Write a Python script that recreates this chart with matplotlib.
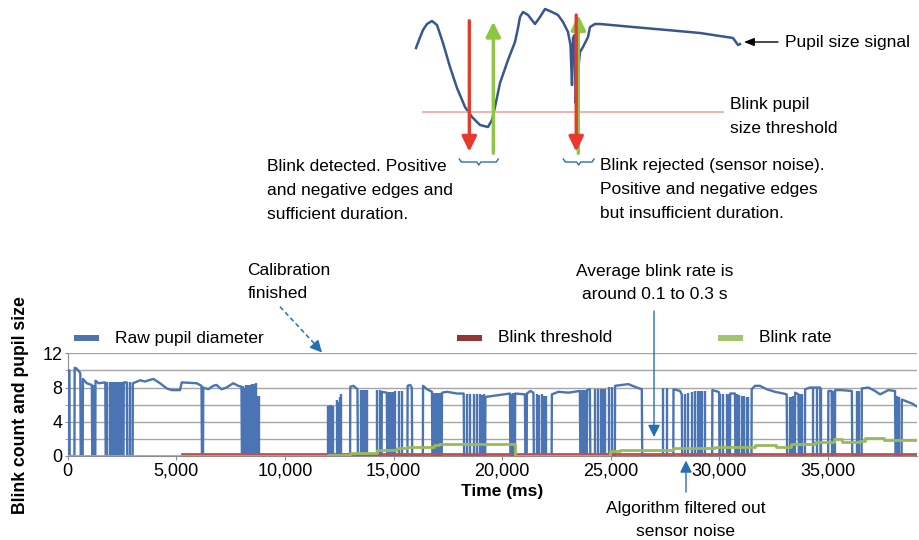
import matplotlib
matplotlib.use('Agg')
import matplotlib.pyplot as plt
from matplotlib.patches import Rectangle
from matplotlib.ticker import FuncFormatter, MultipleLocator

plt.rcParams['font.family'] = ['Liberation Sans', 'DejaVu Sans']
plt.rcParams['font.size'] = 12.5

# ---- raw pupil diameter: plateau pieces (zero between pieces) ----
raw_t = [0, 0, 80, 90, 310, 320, 360, 450, 580, 600, 690, 700, 880, 1110, 1130,
         1270, 1280, 1420, 1730, 1750,
         2570, 2580, 2720, 2740,
         2990, 3000, 3340, 3560, 3720, 3950, 4250, 4560, 4790, 5170, 5250, 5940, 6160, 6180,
         6230, 6240, 6470, 6700, 6850, 7080, 7310, 7620, 7850, 8000, 8020,
         13000, 13010, 13150, 13340, 13360,
         14450, 14460, 14690, 14710,
         15640, 15650, 15770, 15840, 15860,
         16350, 16360, 16540, 16770, 16790,
         17220, 17230, 17460, 17920, 18230, 18250,
         19220, 19230, 20360, 20380,
         20590, 20600, 21050, 21070,
         21130, 21140, 21300, 21440, 21460,
         22280, 22290, 22590, 23050, 23580, 23600,
         23900, 23910, 24040, 24060,
         25190, 25200, 25500, 25810, 26200, 26430, 26450,
         27880, 27890, 28190, 28270, 28290,
         29670, 29680, 29960, 29990, 30010,
         30490, 30500, 30720, 30740,
         31480, 31490, 31640, 31870, 32180, 32560, 32950, 33100, 33120,
         33480, 33490, 33640, 33660,
         33940, 33950, 34180, 34410, 34640, 34660,
         35010, 35020, 35170, 35190,
         35320, 35330, 35600, 36100, 36120,
         36550, 36560, 36860, 37170, 37400, 37780, 38090, 38110,
         38390, 38400, 38700, 38900, 39010, 39100]
raw_v = [0, 10.0, 10.0, 0, 0, 10.3, 10.3, 10.1, 9.7, 0, 0, 9.0, 8.5, 8.3, 0,
         0, 8.8, 8.5, 8.6, 0,
         0, 8.6, 8.6, 0,
         0, 8.5, 8.85, 8.7, 8.85, 9.0, 8.5, 7.9, 7.7, 7.7, 8.6, 8.5, 8.2, 0,
         0, 8.0, 7.8, 8.2, 8.3, 7.8, 8.0, 8.5, 8.2, 8.1, 0,
         0, 8.1, 8.2, 7.8, 0,
         0, 7.5, 7.4, 0,
         0, 8.2, 8.3, 8.0, 0,
         0, 8.2, 7.8, 7.5, 0,
         0, 7.4, 7.5, 7.3, 7.3, 0,
         0, 6.9, 7.3, 0,
         0, 7.3, 7.2, 0,
         0, 7.3, 7.6, 7.4, 0,
         0, 7.2, 7.5, 7.4, 7.6, 0,
         0, 7.7, 7.8, 0,
         0, 8.2, 8.3, 8.4, 8.0, 7.8, 0,
         0, 7.8, 7.6, 7.2, 0,
         0, 7.7, 7.5, 7.4, 0,
         0, 7.3, 7.3, 0,
         0, 7.8, 8.2, 8.2, 7.8, 7.5, 7.3, 7.2, 0,
         0, 7.4, 7.2, 0,
         0, 7.8, 8.0, 8.0, 8.0, 0,
         0, 7.6, 7.6, 0,
         0, 7.7, 7.7, 7.6, 0,
         0, 7.9, 8.0, 7.6, 7.2, 7.7, 7.6, 0,
         0, 6.6, 6.3, 6.1, 5.9, 5.8]

# short blink spikes in the raw signal
spike_t = [1170, 1200, 1810, 1930, 2030, 2110, 2190, 2260, 2340, 2420, 2490, 2850, 2890,
           8050, 8120, 8220, 8300, 8410, 8500, 8580, 8680, 8760, 8830,
           11990, 12060, 12140, 12200, 12400, 12470, 12530, 12600,
           13490, 13600, 13680, 13770, 14260, 14380, 14780, 14880, 14970, 15070, 15270, 15380,
           16870, 16960, 17060, 17150, 18380, 18540, 18690, 18840, 19000, 19080, 19150,
           20440, 20520, 21590, 21720, 21830, 21930, 22020, 23680, 23760, 23840,
           24270, 24420, 24540, 24640, 24740, 24940, 25050, 27420, 27580,
           28420, 28560, 28720, 28900, 29020, 29120, 29220, 29340,
           30030, 30190, 30340, 30420, 30800, 30910, 31030, 31150, 31260, 31340,
           33250, 33330, 33410, 33720, 33790, 34290, 34490, 34690, 35250, 36320, 36430,
           38160, 38270]
spike_h = [8.3, 8.3, 8.6, 8.6, 8.6, 8.6, 8.6, 8.6, 8.6, 8.6, 8.6, 8.6, 8.6,
           8.2, 8.0, 8.3, 8.3, 8.3, 8.4, 8.4, 8.5, 7.0, 7.0,
           5.8, 6.0, 6.0, 5.9, 6.5, 6.3, 6.9, 7.2,
           7.7, 7.7, 7.7, 7.7, 7.7, 7.7, 7.5, 7.5, 7.5, 7.6, 7.6, 7.6,
           7.4, 7.4, 7.4, 7.4, 7.2, 7.2, 7.2, 7.2, 7.2, 7.1, 7.2,
           7.3, 7.4, 7.2, 7.1, 7.2, 7.0, 7.0, 7.7, 7.7, 7.7,
           7.8, 7.8, 7.8, 7.8, 7.8, 8.1, 8.1, 8.0, 8.0,
           7.2, 7.4, 7.5, 7.6, 7.6, 7.6, 7.6, 7.6,
           7.3, 7.3, 7.3, 7.3, 7.2, 7.1, 7.0, 7.0, 6.9, 6.9,
           6.9, 6.9, 7.0, 7.2, 7.2, 8.0, 8.0, 8.0, 7.6, 7.6, 7.6,
           7.0, 6.9]

# blink threshold
thr_t = [5250, 39100]
thr_v = [0.2, 0.2]

# blink rate (step changes)
rate_t = [0, 12000, 13000, 14230, 15150, 15600, 16850, 17080, 20600, 24970, 25430, 27400,
          27880, 29800, 31640, 32600, 33300, 34400, 35300, 35640, 36450, 36700, 37600, 39100]
rate_v = [0.0, 0.1, 0.4, 0.7, 0.9, 1.1, 1.3, 1.45, 0.05, 0.55, 0.65, 0.75,
          0.95, 1.05, 1.25, 1.05, 1.35, 1.6, 2.0, 1.65, 1.8, 2.1, 1.9, 1.9]

# schematic pupil signal (drawn in the upper sketch, pixel units)
sig_x = [416, 419, 423, 427, 432, 437, 443, 450, 457, 465, 472, 480, 488, 492, 495, 500,
         508, 515, 518, 520, 523, 528, 535, 540, 545, 552, 558, 563, 568, 570.5, 572, 573,
         574.5, 575.7, 577, 580, 583, 588, 590, 595, 600, 633, 667, 700, 733, 738, 740]
sig_y = [48, 40, 30, 24, 21, 25, 43, 67, 88, 107, 117, 125, 127, 120, 107, 83,
         60, 42, 28, 17, 12, 15, 24, 17, 9, 12, 15, 22, 32, 45, 85, 38,
         35, 103, 80, 52, 47, 37, 27, 24, 24, 27, 30, 33, 38, 45, 44]

BLUE = '#4a74b4'
RED = '#c0504d'
GREEN = '#9bbb59'
ANN = '#2570b5'

fig = plt.figure(figsize=(9.19, 5.4), dpi=100)
W, H = 919, 540
ax = fig.add_axes([67.7 / W, 1 - 456 / H, (917 - 67.7) / W, (456 - 353.3) / H])

ax.plot(raw_t, raw_v, color=BLUE, lw=1.7, zorder=3)
ax.vlines(spike_t, 0, spike_h, color=BLUE, lw=1.7, zorder=3)
ax.plot(thr_t, thr_v, color=RED, lw=2.0, zorder=4)
ax.step(rate_t, rate_v, where='post', color=GREEN, lw=2.0, zorder=5)

ax.set_xlim(0, 39100)
ax.set_ylim(0, 12)
ax.xaxis.set_major_locator(MultipleLocator(5000))
ax.xaxis.set_major_formatter(FuncFormatter(lambda v, p: f'{int(v):,}'))
ax.yaxis.set_major_locator(MultipleLocator(4))
ax.yaxis.set_minor_locator(MultipleLocator(2))
ax.grid(which='both', axis='y', color='#a6a6a6', lw=1.0, zorder=0)
ax.set_axisbelow(True)
for s in ['top', 'right']:
    ax.spines[s].set_visible(False)
ax.spines['left'].set_color('#8c8c8c')
ax.spines['bottom'].set_color('#8c8c8c')
ax.tick_params(axis='x', length=3, color='#8c8c8c', labelsize=13, pad=2)
ax.tick_params(axis='y', which='both', length=2, color='#8c8c8c', labelsize=13, pad=2)
ax.set_xlabel('Time (ms)', fontweight='bold', fontsize=12.5)
ax.xaxis.set_label_coords((502 - 67.7) / (917 - 67.7), -0.27)
ax.set_ylabel('Blink count and pupil size', fontweight='bold', fontsize=12.7)
ax.yaxis.set_label_coords(-0.046, 0.5)

# overlay in pixel units for sketch, legend and callouts
ov = fig.add_axes([0, 0, 1, 1])
ov.set_xlim(0, W)
ov.set_ylim(H, 0)
ov.axis('off')
ov.patch.set_alpha(0)

# legend
leg_labels = ['Raw pupil diameter', 'Blink threshold', 'Blink rate']
leg_colors = ['#4f73b0', '#943634', '#a5c46e']
leg_x = [74, 457, 718]
for lab, col, x in zip(leg_labels, leg_colors, leg_x):
    ov.add_patch(Rectangle((x, 335), 25, 6, color=col, lw=0))
    ov.text(x + 41, 338, lab, va='center', ha='left')

# sketch: signal, threshold, edge arrows, braces
ov.plot(sig_x, sig_y, color='#38578e', lw=1.8)
ov.plot([423, 723], [112, 112], color='#f0a39e', lw=1.2)
arrow_style = '-|>,head_length=0.45,head_width=0.22'
for x, y0, y1, col in [(469.3, 20.7, 151.7, '#e83a2c'), (493.3, 153.3, 21.7, '#8dc641'),
                       (578.3, 153.3, 15, '#8dc641'), (576.2, 15, 151.7, '#e83a2c')]:
    ov.annotate('', xy=(x, y1), xytext=(x, y0),
                arrowprops=dict(arrowstyle=arrow_style, color=col, lw=2.4,
                                mutation_scale=20, shrinkA=0, shrinkB=0))
for x0, x1 in [(459.3, 498.3), (563.3, 594)]:
    m = (x0 + x1) / 2
    y0 = 159
    ov.plot([x0, x0 + 2, m - 2, m, m + 2, x1 - 2, x1],
            [y0, y0 + 3, y0 + 3, y0 + 6, y0 + 3, y0 + 3, y0], color=ANN, lw=1.0)

ov.annotate('', xy=(744, 42), xytext=(778, 42),
            arrowprops=dict(arrowstyle='-|>,head_length=0.5,head_width=0.2', color='black',
                            lw=1.0, mutation_scale=12, shrinkA=0, shrinkB=0))
ov.text(785, 35, 'Pupil size signal', va='top', ha='left')
ov.text(730, 96.7, 'Blink pupil\nsize threshold', va='top', ha='left', linespacing=1.75)
ov.text(267, 159, 'Blink detected. Positive\nand negative edges and\nsufficient duration.',
        va='top', ha='left', linespacing=1.75)
ov.text(600, 158, 'Blink rejected (sensor noise).\nPositive and negative edges\nbut insufficient duration.',
        va='top', ha='left', linespacing=1.75)

# chart callouts
ov.text(247.5, 263, 'Calibration\nfinished', va='top', ha='left', linespacing=1.65)
ov.plot([280, 318], [306.7, 347.5], color=ANN, lw=1.1, ls=(0, (3, 2)))
ov.annotate('', xy=(322, 352.5), xytext=(317, 347),
            arrowprops=dict(arrowstyle='-|>,head_length=0.6,head_width=0.3', color=ANN,
                            lw=1.0, mutation_scale=12, shrinkA=0, shrinkB=0))
ov.text(655, 264, 'Average blink rate is\naround 0.1 to 0.3 s', va='top', ha='center',
        linespacing=1.65)
ov.annotate('', xy=(654, 437), xytext=(654, 311),
            arrowprops=dict(arrowstyle='-|>,head_length=0.6,head_width=0.3', color=ANN,
                            lw=1.0, mutation_scale=12, shrinkA=0, shrinkB=0))
ov.annotate('', xy=(686, 460.5), xytext=(686, 492),
            arrowprops=dict(arrowstyle='-|>,head_length=0.6,head_width=0.3', color=ANN,
                            lw=1.0, mutation_scale=12, shrinkA=0, shrinkB=0))
ov.text(686, 501.5, 'Algorithm filtered out\nsensor noise', va='top', ha='center',
        linespacing=1.65)

fig.savefig('out.png', dpi=100)
